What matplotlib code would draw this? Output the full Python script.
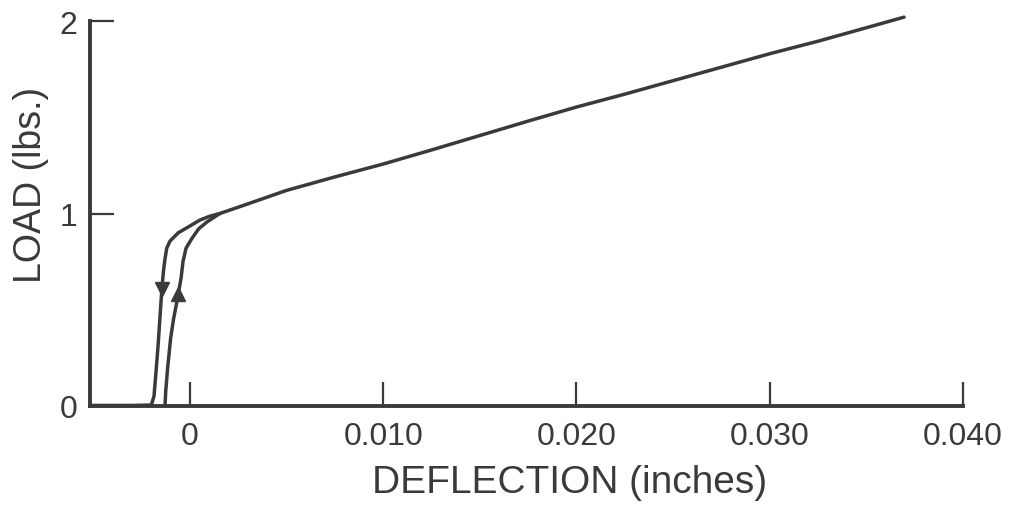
import matplotlib
matplotlib.use("Agg")
import matplotlib.pyplot as plt

# Loading branch (upward), deflection in inches, load in lbs
load_x = [-0.00129, -0.00125, -0.00115, -0.00100, -0.00085, -0.00062, -0.00045,
          -0.00036, -0.00020, 0.00010, 0.00045, 0.00088, 0.00155]
load_y = [0.00, 0.08, 0.20, 0.35, 0.45, 0.57, 0.67, 0.75, 0.82, 0.87, 0.92, 0.956, 1.00]

# Common upper line (loading continues)
upper_x = [0.00155, 0.0030, 0.0050, 0.0075, 0.0100, 0.0125, 0.0150, 0.0175,
           0.0200, 0.0225, 0.0250, 0.0275, 0.0300, 0.0325, 0.0350, 0.03695]
upper_y = [1.00, 1.05, 1.12, 1.19, 1.257, 1.33, 1.405, 1.48, 1.553, 1.62,
           1.69, 1.76, 1.83, 1.895, 1.965, 2.02]

# Unloading branch (downward)
unload_x = [0.00155, 0.0010, 0.0005, 0.0000, -0.0006, -0.00103, -0.00120,
            -0.00129, -0.00137, -0.00145, -0.00155, -0.00165, -0.00176,
            -0.00186, -0.00200, -0.00300, -0.00517]
unload_y = [1.00, 0.985, 0.965, 0.935, 0.90, 0.857, 0.82, 0.764, 0.70, 0.61,
            0.46, 0.31, 0.17, 0.05, 0.005, 0.003, 0.003]

# Arrow marker positions
arrow_up = (-0.00062, 0.58)
arrow_down = (-0.00147, 0.61)

xticks = [0, 0.010, 0.020, 0.030, 0.040]
xticklabels = ["0", "0.010", "0.020", "0.030", "0.040"]
yticks = [0, 1, 2]
yticklabels = ["0", "1", "2"]

col = "#3a3a3a"
plt.rcParams['font.family'] = ['Liberation Sans', 'DejaVu Sans']

fig = plt.figure(figsize=(10.24, 5.06), dpi=100)
ax = fig.add_axes([90/1024, 1-407/506, (963-90)/1024, (407-22)/506])

ax.plot(load_x + upper_x, load_y + upper_y, color=col, lw=2.5,
        solid_capstyle='round', clip_on=False)
ax.plot(unload_x, unload_y, color=col, lw=2.5, solid_capstyle='round', clip_on=False)
ax.plot([arrow_up[0]], [arrow_up[1]], marker='^', ms=10, color=col, mec=col)
ax.plot([arrow_down[0]], [arrow_down[1]], marker='v', ms=10, color=col, mec=col)

ax.set_xlim(-0.00517, 0.040)
ax.set_ylim(0, 2)
for s in ['top', 'right']:
    ax.spines[s].set_visible(False)
for s in ['left', 'bottom']:
    ax.spines[s].set_linewidth(2.8)
    ax.spines[s].set_color(col)
    ax.spines[s].set_capstyle('projecting')

ax.set_xticks(xticks)
ax.set_xticklabels(xticklabels)
ax.set_yticks(yticks)
ax.set_yticklabels(yticklabels)
ax.tick_params(direction='in', length=17, width=1.6, color=col, labelcolor=col,
               labelsize=23)
ax.tick_params(axis='x', pad=11)
ax.tick_params(axis='y', pad=9)

ax.set_xlabel("DEFLECTION (inches)", fontsize=28, color=col, labelpad=9)
ax.xaxis.label.set_x(0.549)
fig.text(31/1024, 1-185/506, "LOAD (lbs.)", fontsize=27, color=col,
         rotation=90, ha='center', va='center')

fig.savefig("out.png", dpi=100)
